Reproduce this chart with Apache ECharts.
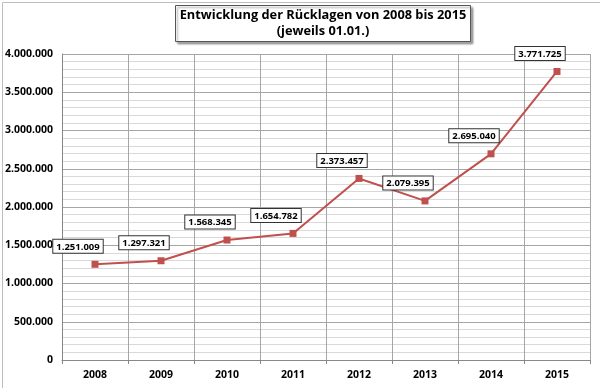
<!DOCTYPE html>
<html>
<head>
<meta charset="utf-8">
<script src="https://cdn.jsdelivr.net/npm/echarts@6/dist/echarts.min.js"></script>
<style>
html,body{margin:0;padding:0;background:#fff;}
#chart{width:600px;height:388px;}
</style>
</head>
<body>
<div id="chart"></div>
<script>
const years = ['2008','2009','2010','2011','2012','2013','2014','2015'];
const ruecklagen = [1251009, 1297321, 1568345, 1654782, 2373457, 2079395, 2695040, 3771725];
const titleLines = ['Entwicklung der Rücklagen von 2008 bis 2015', '(jeweils 01.01.)'];

function fmt(v) {
  return String(Math.round(v)).replace(/\B(?=(\d{3})+(?!\d))/g, '.');
}

const FONT = 'Open Sans';
const chart = echarts.init(document.getElementById('chart'), null, {renderer: 'canvas'});
chart.setOption({
  backgroundColor: '#fff',
  animation: false,
  textStyle: {fontFamily: FONT},
  graphic: [{
    type: 'rect', left: 0, top: 0, z: -1, silent: true,
    shape: {x: 0.5, y: 0.5, width: 598, height: 386},
    style: {fill: 'none', stroke: '#bdbdbd', lineWidth: 1}
  }],
  title: {
    text: titleLines.map(t => '{a|' + t + '}').join('\n'),
    left: 182, top: 4,
    padding: [3, 4, 4, 4],
    backgroundColor: '#fff',
    borderColor: '#555',
    borderWidth: 1,
    shadowColor: 'rgba(0,0,0,0.35)',
    shadowOffsetX: 2, shadowOffsetY: 2, shadowBlur: 2,
    textStyle: {
      rich: {
        a: {fontFamily: FONT, fontWeight: 'bold', fontSize: 12.8, color: '#000', lineHeight: 16, align: 'center', width: 274}
      }
    }
  },
  grid: {left: 62, right: 10, top: 54, bottom: 28, containLabel: false},
  xAxis: {
    type: 'category',
    data: years,
    boundaryGap: true,
    axisLine: {show: true, lineStyle: {color: '#888', width: 1}},
    axisTick: {show: true, length: 4, lineStyle: {color: '#888'}},
    axisLabel: {fontFamily: FONT, fontWeight: 'bold', fontSize: 10.5, color: '#000', margin: 10},
    splitLine: {show: true, lineStyle: {color: '#a6a6a6', width: 1}}
  },
  yAxis: {
    type: 'value',
    min: 0, max: 4000000, interval: 500000,
    axisLine: {show: true, lineStyle: {color: '#888'}},
    axisTick: {show: false},
    axisLabel: {fontFamily: FONT, fontWeight: 'bold', fontSize: 10.5, color: '#000', margin: 9, formatter: fmt},
    splitLine: {show: true, lineStyle: {color: '#a6a6a6', width: 1}},
    minorTick: {show: false, splitNumber: 5},
    minorSplitLine: {show: true, lineStyle: {color: '#d9d9d9', width: 1}}
  },
  series: [{
    type: 'line',
    data: ruecklagen,
    symbol: 'rect',
    symbolSize: 7,
    lineStyle: {color: '#c0504d', width: 2},
    itemStyle: {color: '#c0504d'},
    label: {
      show: true,
      position: 'top',
      distance: 6,
      offset: [-17, -2],
      formatter: p => fmt(p.value),
      fontFamily: FONT, fontWeight: 'bold', fontSize: 9.5, color: '#000',
      backgroundColor: '#fff', borderColor: '#333', borderWidth: 1,
      padding: [2, 3, 1, 3]
    }
  }]
});
</script>
</body>
</html>
